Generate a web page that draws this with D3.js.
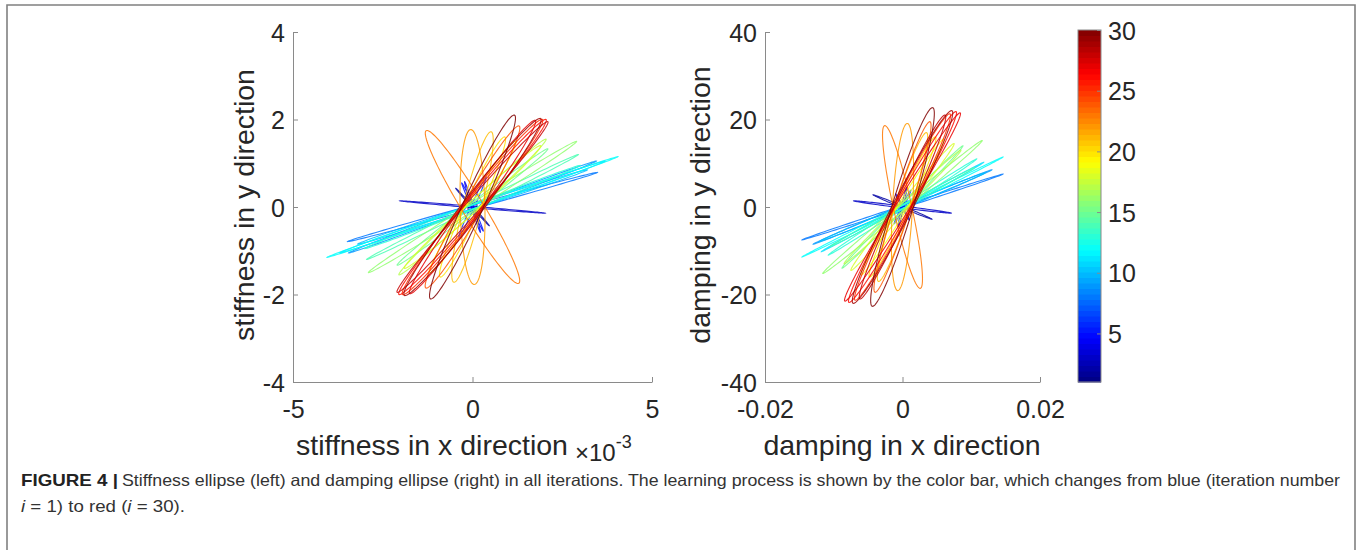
<!DOCTYPE html>
<html>
<head>
<meta charset="utf-8">
<script src="https://cdn.jsdelivr.net/npm/d3@7"></script>
<style>
  body { margin: 0; background: #fff; }
  svg { display: block; }
  text { font-family: "Liberation Sans", Arial, Helvetica, sans-serif; }
</style>
</head>
<body>
<svg id="fig" width="1363" height="550"></svg>
<script>
// ---- data -------------------------------------------------------------
const iterations = d3.range(1, 31);

// Stiffness ellipses: major semi-axis tip (x in 1e-3 units, y) and minor/major ratio
const stiffTipX = [0.12, 0.47, 2.02, -0.22, 0.30, 0.38, 0.25, 3.48, 3.45, 3.20,
                   3.70, 4.05, 3.00, 2.95, 2.10, 2.90, 2.05, 1.90, 1.20, 0.90,
                   0.52, -0.05, -1.29, 1.30, 1.95, 2.05, 1.75, 2.10, 1.90, 1.17];
const stiffTipY = [0.06, -0.43, -0.14, 0.58, -0.55, 0.69, 0.12, 0.79, 1.05, 0.85,
                   1.05, 1.15, 0.95, 1.20, 1.33, 1.50, 1.55, 1.40, 1.50, 1.60,
                   1.72, 1.77, 1.745, 1.85, 2.00, 2.00, 1.98, 1.95, 2.02, 2.10];
const stiffRatio = [0.5, 0.03, 0.01, 0.04, 0.04, 0.05, 0.3, 0.015, 0.015, 0.02,
                    0.015, 0.012, 0.02, 0.02, 0.04, 0.03, 0.05, 0.06, 0.08, 0.10,
                    0.12, 0.16, 0.12, 0.10, 0.08, 0.07, 0.08, 0.06, 0.09, 0.10];

// Damping ellipses: major semi-axis tip (x, y) and minor/major ratio
const dampTipX = [0.0005, 0.0043, 0.0071, 0.0006, 0.0010, 0.0012, 0.0015, 0.0146, 0.0130, 0.0120,
                  0.0118, 0.0146, 0.0108, 0.0105, 0.0088, 0.0116, 0.0085, 0.0075, 0.0060, 0.0048,
                  0.0035, 0.0007, -0.0026, 0.0040, 0.0069, 0.0078, 0.0084, 0.0062, 0.0072, 0.0044];
const dampTipY = [0.5, -2.8, -1.4, 4.5, -3.0, 3.8, 1.2, 7.5, 8.5, 7.8,
                  10.2, 11.4, 11.0, 9.0, 14.0, 15.2, 13.0, 14.5, 15.5, 16.0,
                  17.0, 19.1, 18.6, 19.5, 21.3, 21.8, 21.5, 21.0, 22.0, 22.7];
const dampRatio = [0.4, 0.03, 0.02, 0.05, 0.05, 0.06, 0.3, 0.012, 0.015, 0.02,
                   0.015, 0.012, 0.02, 0.02, 0.03, 0.03, 0.04, 0.05, 0.06, 0.08,
                   0.10, 0.12, 0.11, 0.09, 0.08, 0.07, 0.06, 0.08, 0.09, 0.10];

const stiffXTicks = [-5, 0, 5];
const stiffYTicks = [-4, -2, 0, 2, 4];
const dampXTicks = [-0.02, 0, 0.02];
const dampYTicks = [-40, -20, 0, 20, 40];
const barTicks = [5, 10, 15, 20, 25, 30];

// ---- helpers ----------------------------------------------------------
function jet(v) {
  const c = x => Math.max(0, Math.min(1, x));
  const r = c(1.5 - Math.abs(4 * v - 3));
  const g = c(1.5 - Math.abs(4 * v - 2));
  const b = c(1.5 - Math.abs(4 * v - 1));
  return d3.rgb(r * 255, g * 255, b * 255).formatHex();
}
const iterColor = i => jet((i - 1) / 29);

const svg = d3.select("#fig");
const axisGray = "#8a8a8a";
const textDark = "#262626";

// outer frame
svg.append("path")
  .attr("d", "M7,550 V5 H1355 V550")
  .attr("fill", "none").attr("stroke", "#808080").attr("stroke-width", 1.6);

const line = d3.line().curve(d3.curveLinearClosed);

function ellipsePoints(sx, sy, tx, ty, ratio) {
  const cx = sx(0), cy = sy(0);
  const ux = sx(tx) - cx, uy = sy(ty) - cy;
  const L = Math.hypot(ux, uy);
  const vx = -uy / L * ratio * L, vy = ux / L * ratio * L;
  return d3.range(0, 120).map(k => {
    const t = k / 120 * 2 * Math.PI;
    return [cx + Math.cos(t) * ux + Math.sin(t) * vx,
            cy + Math.cos(t) * uy + Math.sin(t) * vy];
  });
}

function panel(opts) {
  const g = svg.append("g");
  const sx = d3.scaleLinear().domain(opts.xDomain).range(opts.xRange);
  const sy = d3.scaleLinear().domain(opts.yDomain).range([382, 32]);

  // ellipses, drawn in iteration order
  g.append("g").selectAll("path")
    .data(iterations)
    .join("path")
    .attr("d", (i, k) => line(ellipsePoints(sx, sy, opts.tipX[k], opts.tipY[k], opts.ratio[k])))
    .attr("fill", "none")
    .attr("stroke", i => iterColor(i))
    .attr("stroke-width", 1.1)
    .attr("stroke-opacity", 0.85);

  const yAxis = d3.axisLeft(sy).tickValues(opts.yTicks).tickSizeInner(-5).tickSizeOuter(0)
    .tickPadding(8).tickFormat(opts.yFmt);
  const xAxis = d3.axisBottom(sx).tickValues(opts.xTicks).tickSizeInner(-5).tickSizeOuter(0)
    .tickPadding(18).tickFormat(opts.xFmt);

  const ya = g.append("g").attr("transform", `translate(${opts.xRange[0]},0)`).call(yAxis);
  const xa = g.append("g").attr("transform", "translate(0,382)").call(xAxis);
  [ya, xa].forEach(a => {
    a.select(".domain").attr("stroke", axisGray);
    a.selectAll(".tick line").attr("stroke", axisGray);
    a.selectAll(".tick text").attr("fill", textDark).style("font-size", "25px")
      .style("font-family", "'Liberation Sans', Arial, sans-serif");
  });
  ya.selectAll(".tick text").attr("dy", "0.36em");
  xa.selectAll(".tick text").attr("dy", "0.71em");

  g.append("text")
    .attr("x", opts.xLabelX).attr("y", 455)
    .attr("text-anchor", "middle").attr("fill", textDark)
    .style("font-size", "28.5px").text(opts.xLabel);

  g.append("text")
    .attr("transform", `translate(${opts.yLabelX},205) rotate(-90)`)
    .attr("text-anchor", "middle").attr("fill", textDark)
    .style("font-size", "28.5px").text(opts.yLabel);
  return g;
}

panel({
  xDomain: [-5, 5], xRange: [293, 652], yDomain: [-4, 4],
  tipX: stiffTipX, tipY: stiffTipY, ratio: stiffRatio,
  xTicks: stiffXTicks, yTicks: stiffYTicks,
  xFmt: d => d3.format("d")(d).replace("−", "-"),
  yFmt: d => d3.format("d")(d).replace("−", "-"),
  xLabel: "stiffness in x direction", xLabelX: 432,
  yLabel: "stiffness in y direction", yLabelX: 254
});

// exponent for the stiffness x axis
const expo = svg.append("text").attr("x", 575).attr("y", 461).attr("fill", textDark)
  .style("font-size", "24px");
expo.append("tspan").text("×10");
expo.append("tspan").attr("dy", -13).style("font-size", "18px").text("-3");

panel({
  xDomain: [-0.02, 0.02], xRange: [765, 1040], yDomain: [-40, 40],
  tipX: dampTipX, tipY: dampTipY, ratio: dampRatio,
  xTicks: dampXTicks, yTicks: dampYTicks,
  xFmt: d => (d === 0 ? "0" : d3.format(".2f")(d)).replace("−", "-"),
  yFmt: d => d3.format("d")(d).replace("−", "-"),
  xLabel: "damping in x direction", xLabelX: 902,
  yLabel: "damping in y direction", yLabelX: 710
});

// ---- colour bar -------------------------------------------------------
const cb = svg.append("g");
const cbScale = d3.scaleLinear().domain([1, 30]).range([382, 30]);
const nBands = 64;
cb.selectAll("rect.band")
  .data(d3.range(nBands))
  .join("rect")
  .attr("class", "band")
  .attr("x", 1078).attr("width", 23)
  .attr("y", k => cbScale(1 + (k + 1) * 29 / nBands))
  .attr("height", k => cbScale(1 + k * 29 / nBands) - cbScale(1 + (k + 1) * 29 / nBands) + 0.5)
  .attr("fill", k => jet((k + 0.5) / nBands));
cb.append("rect").attr("x", 1078).attr("y", 30).attr("width", 23).attr("height", 352)
  .attr("fill", "none").attr("stroke", axisGray).attr("stroke-width", 1);
const cbAxis = d3.axisRight(cbScale).tickValues(barTicks).tickSizeInner(-4).tickSizeOuter(0)
  .tickPadding(7).tickFormat(d3.format("d"));
const cba = cb.append("g").attr("transform", "translate(1101,0)").call(cbAxis);
cba.select(".domain").remove();
cba.selectAll(".tick line").attr("stroke", axisGray);
cba.selectAll(".tick text").attr("fill", textDark).style("font-size", "25px")
  .style("font-family", "'Liberation Sans', Arial, sans-serif").attr("dy", "0.36em");

// ---- caption ----------------------------------------------------------
const capFont = "'Liberation Sans Narrow', 'Liberation Sans', Arial, sans-serif";
svg.append("text").attr("x", 21).attr("y", 486).attr("fill", "#222")
  .style("font-family", capFont).style("font-size", "16.5px").style("font-weight", "bold")
  .attr("textLength", 97).attr("lengthAdjust", "spacingAndGlyphs")
  .text("FIGURE 4 |");
svg.append("text").attr("x", 122).attr("y", 486).attr("fill", "#333")
  .style("font-family", capFont).style("font-size", "16.5px")
  .attr("textLength", 1218).attr("lengthAdjust", "spacingAndGlyphs")
  .text("Stiffness ellipse (left) and damping ellipse (right) in all iterations. The learning process is shown by the color bar, which changes from blue (iteration number");
const cap2 = svg.append("text").attr("x", 21).attr("y", 512).attr("fill", "#333")
  .style("font-family", capFont).style("font-size", "16.5px")
  .attr("textLength", 164).attr("lengthAdjust", "spacingAndGlyphs");
cap2.append("tspan").style("font-style", "italic").text("i");
cap2.append("tspan").text(" = 1) to red (");
cap2.append("tspan").style("font-style", "italic").text("i");
cap2.append("tspan").text(" = 30).");
</script>
</body>
</html>
